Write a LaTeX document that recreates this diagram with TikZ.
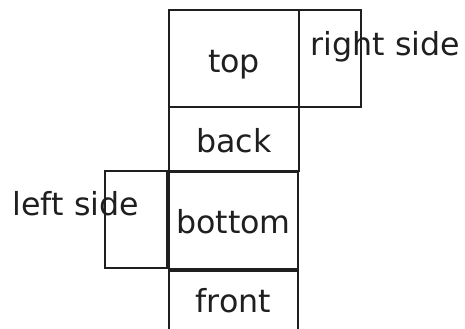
\documentclass[tikz,border=0pt]{standalone}
\usepackage{fontspec}
\setmainfont{DejaVu Sans}
\begin{document}
\begin{tikzpicture}[x=1bp,y=-1bp,
  face/.style={draw=black!88,line width=2bp,inner sep=0pt},
  lbl/.style={anchor=base west,inner sep=0pt,font=\fontsize{31.8}{36}\selectfont,text=black!88},
  clbl/.style={anchor=base,inner sep=0pt,font=\fontsize{31.8}{36}\selectfont,text=black!88}]
\useasboundingbox (0,0) rectangle (465,328);
% faces of the unfolded box
\draw[face] (169,10) rectangle (299,107);
\draw[face] (299,10) rectangle (361,107);
\draw[face] (169,107) rectangle (299,171);
\draw[face] (169,172) rectangle (298,269);
\draw[face] (105,171) rectangle (167,268);
\draw[face] (169,271) rectangle (298,340);
% labels
\node[clbl] (ttop) at (234,72) {top};
\node[lbl] (tright) at (310.5,55) {right side};
\node[clbl] (tback) at (234,152) {back};
\node[lbl] (tleft) at (12.5,215) {left side};
\node[clbl] (tbottom) at (233.5,233) {bottom};
\node[clbl] (tfront) at (233.5,312) {front};
\end{tikzpicture}
\end{document}
